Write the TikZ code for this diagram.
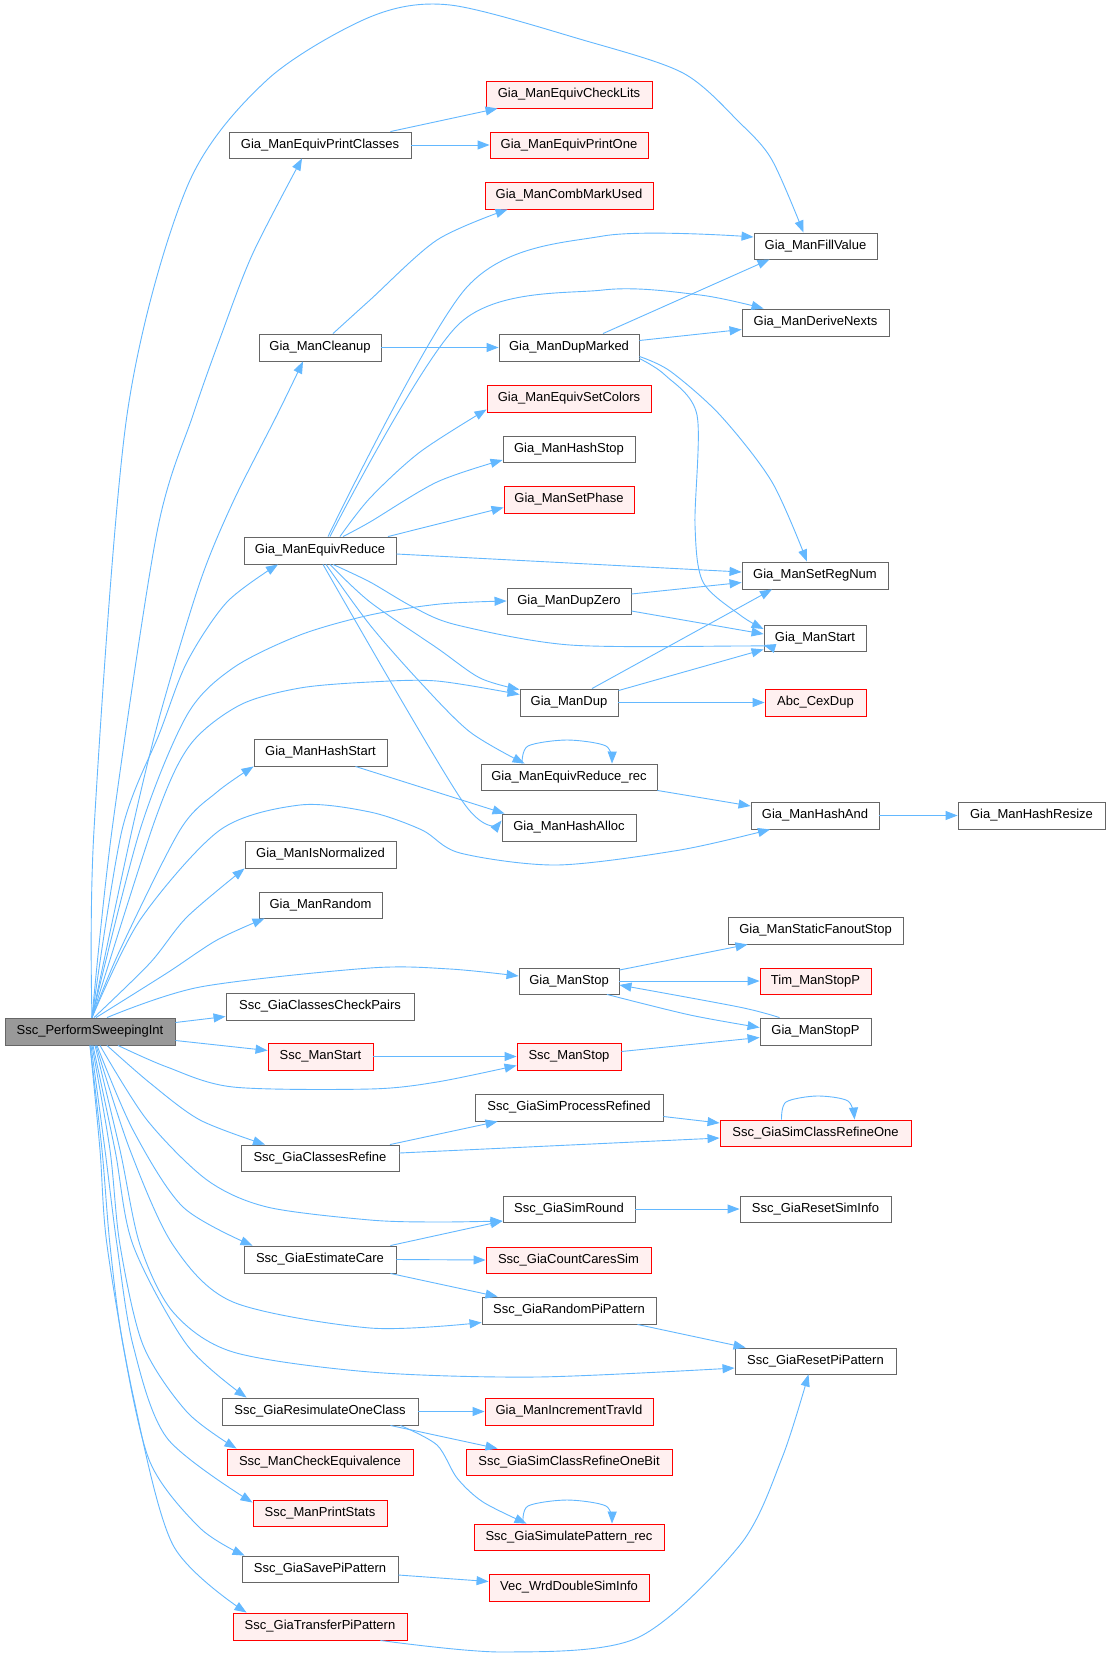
\documentclass[tikz,border=0pt]{standalone}
\usepackage{fontspec}
\setmainfont{Liberation Sans}
\usetikzlibrary{arrows.meta}
\definecolor{edgec}{HTML}{63B8FF}
\definecolor{bordc}{HTML}{666666}
\definecolor{redfill}{HTML}{FFF0F0}
\definecolor{rootfill}{HTML}{999999}
\newcommand\bx[7][nb]{\node[#1, minimum width={(#5-#3)*1pt}, minimum height={(#6-#4)*1pt}] (#2) at ({(#3+#5)/2},{(#4+#6)/2}) {#7};}
\begin{document}
\begin{tikzpicture}[x=1pt,y=-1pt,
  nb/.style={draw=bordc, fill=white, line width=0.9pt, inner sep=0pt, font=\fontsize{13}{15}\selectfont, text=black},
  rb/.style={nb, draw=red, fill=redfill},
  rt/.style={nb, fill=rootfill},
  edg/.style={draw=edgec, line width=0.9pt, -{Triangle[length=12pt,width=9pt]}}]
\fill[white] (0,0) rectangle (1109,1659);
\useasboundingbox (0,0) rectangle (1109,1659);

% nodes
\bx[rt]{R}{5}{1018}{175}{1045}{Ssc\_PerformSweepingInt}
\bx{EPC}{229}{132}{411}{158}{Gia\_ManEquivPrintClasses}
\bx[rb]{ECL}{486}{81}{652}{108}{Gia\_ManEquivCheckLits}
\bx[rb]{EPO}{490}{132}{648}{158}{Gia\_ManEquivPrintOne}
\bx[rb]{CMU}{485}{182}{653}{209}{Gia\_ManCombMarkUsed}
\bx{FV}{754}{233}{877}{259}{Gia\_ManFillValue}
\bx{DN}{742}{309}{889}{336}{Gia\_ManDeriveNexts}
\bx{CL}{259}{334}{381}{361}{Gia\_ManCleanup}
\bx{DM}{499}{334}{639}{361}{Gia\_ManDupMarked}
\bx[rb]{ESC}{487}{385}{651}{412}{Gia\_ManEquivSetColors}
\bx{HS}{503}{436}{635}{462}{Gia\_ManHashStop}
\bx[rb]{SP}{504}{486}{634}{513}{Gia\_ManSetPhase}
\bx{ER}{244}{537}{396}{564}{Gia\_ManEquivReduce}
\bx{SRN}{742}{562}{888}{589}{Gia\_ManSetRegNum}
\bx{DZ}{507}{588}{631}{614}{Gia\_ManDupZero}
\bx{ST}{764}{625}{866}{651}{Gia\_ManStart}
\bx{DUP}{520}{689}{618}{716}{Gia\_ManDup}
\bx[rb]{CEX}{765}{689}{866}{716}{Abc\_CexDup}
\bx{HST}{254}{739}{387}{766}{Gia\_ManHashStart}
\bx{ERR}{481}{764}{657}{790}{Gia\_ManEquivReduce\_rec}
\bx{HAL}{502}{814}{636}{841}{Gia\_ManHashAlloc}
\bx{HAN}{751}{802}{879}{829}{Gia\_ManHashAnd}
\bx{HR}{958}{802}{1105}{829}{Gia\_ManHashResize}
\bx{ISN}{245}{841}{396}{868}{Gia\_ManIsNormalized}
\bx{RND}{259}{892}{382}{918}{Gia\_ManRandom}
\bx{SFS}{728}{917}{903}{944}{Gia\_ManStaticFanoutStop}
\bx{GS}{519}{968}{619}{994}{Gia\_ManStop}
\bx[rb]{TIM}{760}{968}{871}{994}{Tim\_ManStopP}
\bx{CCP}{226}{993}{414}{1020}{Ssc\_GiaClassesCheckPairs}
\bx{GSP}{760}{1018}{871}{1045}{Gia\_ManStopP}
\bx[rb]{SMS}{268}{1043}{373}{1070}{Ssc\_ManStart}
\bx[rb]{SMT}{517}{1043}{621}{1070}{Ssc\_ManStop}
\bx{SPR}{475}{1094}{663}{1121}{Ssc\_GiaSimProcessRefined}
\bx[rb]{SCR}{720}{1120}{911}{1146}{Ssc\_GiaSimClassRefineOne}
\bx{CR}{241}{1145}{399}{1171}{Ssc\_GiaClassesRefine}
\bx{SR}{503}{1196}{635}{1222}{Ssc\_GiaSimRound}
\bx{RSI}{740}{1196}{891}{1222}{Ssc\_GiaResetSimInfo}
\bx{EC}{244}{1246}{396}{1273}{Ssc\_GiaEstimateCare}
\bx[rb]{CCS}{486}{1247}{651}{1273}{Ssc\_GiaCountCaresSim}
\bx{RPP}{482}{1297}{656}{1324}{Ssc\_GiaRandomPiPattern}
\bx{RSP}{735}{1348}{896}{1374}{Ssc\_GiaResetPiPattern}
\bx{ROC}{222}{1398}{418}{1425}{Ssc\_GiaResimulateOneClass}
\bx[rb]{ITI}{485}{1398}{653}{1425}{Gia\_ManIncrementTravId}
\bx[rb]{MCE}{227}{1449}{413}{1475}{Ssc\_ManCheckEquivalence}
\bx[rb]{ROB}{466}{1449}{672}{1475}{Ssc\_GiaSimClassRefineOneBit}
\bx[rb]{MPS}{253}{1500}{387}{1526}{Ssc\_ManPrintStats}
\bx[rb]{SPP}{474}{1524}{664}{1550}{Ssc\_GiaSimulatePattern\_rec}
\bx{SAV}{242}{1556}{398}{1582}{Ssc\_GiaSavePiPattern}
\bx[rb]{VEC}{489}{1574}{649}{1601}{Vec\_WrdDoubleSimInfo}
\bx[rb]{TPP}{233}{1613}{407}{1640}{Ssc\_GiaTransferPiPattern}

% root: upward edges
\draw[edg] plot[smooth] coordinates {([xshift=2pt]R.north) (94,830) (127,415) (187,187) (267,80) (370,17) (450,5) (583,40) (683,73) (740,123) (772,160) ([xshift=-12pt]FV.north)};
\draw[edg] plot[smooth] coordinates {([xshift=2pt]R.north) (112,830) (157,532) (193,415) (222,333) (253,253) ([xshift=-18pt]EPC.south)};
\draw[edg] plot[smooth] coordinates {([xshift=2pt]R.north) (132,830) (160,715) (200,582) (233,502) (277,415) ([xshift=-17pt]CL.south)};
\draw[edg] plot[smooth] coordinates {([xshift=2pt]R.north) (122,830) (160,732) (187,662) (227,602) ([xshift=-42pt]ER.south)};
\draw[edg] plot[smooth] coordinates {([xshift=2pt]R.north) (140,830) (187,715) (233,668) (300,635) (370,615) (440,604) (DZ.west)};
\draw[edg] plot[smooth] coordinates {([xshift=2pt]R.north) (155,820) (190,745) (240,705) (300,688) (370,682) (437,681) ([yshift=8pt]DUP.west)};
\draw[edg] plot[smooth] coordinates {([xshift=2pt]R.north) (120,950) (180,830) (217,792) (HST.south west)};
\draw[edg] plot[smooth] coordinates {([xshift=2pt]R.north) (140,920) (220,830) (300,805) (370,812) (422,830) (460,853) (557,865) (680,850) ([xshift=-45pt]HAN.south)};
\draw[edg] plot[smooth] coordinates {([xshift=4pt]R.north) (150,963) (187,917) (ISN.south west)};
\draw[edg] plot[smooth] coordinates {([xshift=6pt]R.north) (167,973) (217,940) ([xshift=6pt]RND.south west)};
\draw[edg] plot[smooth] coordinates {([xshift=17pt]R.north) (200,987) (370,968) (450,969) ([yshift=5pt]GS.west)};
\draw[edg] ([yshift=9pt]R.east) -- ([yshift=-10pt]CCP.west);
\draw[edg] ([yshift=-9pt]R.east) -- ([yshift=6pt]SMS.west);

% root: downward edges
\draw[edg] plot[smooth] coordinates {([xshift=28pt]R.south) (167,1067) (233,1087) (370,1089) (437,1082) ([yshift=-9pt]SMT.west)};
\draw[edg] plot[smooth] coordinates {([xshift=17pt]R.south) (150,1083) (200,1120) ([xshift=-55pt]CR.north)};
\draw[edg] plot[smooth] coordinates {([xshift=10pt]R.south) (147,1120) (207,1180) (267,1207) (370,1220) (437,1222) ([yshift=-12pt]SR.west)};
\draw[edg] plot[smooth] coordinates {([xshift=7pt]R.south) (133,1130) (183,1207) ([xshift=9pt]EC.north west)};
\draw[edg] plot[smooth] coordinates {([xshift=6pt]R.south) (130,1150) (173,1245) (233,1302) (370,1328) ([yshift=-12pt]RPP.west)};
\draw[edg] plot[smooth] coordinates {([xshift=5pt]R.south) (120,1150) (140,1245) (173,1312) (233,1352) (370,1372) (537,1377) ([yshift=-7pt]RSP.west)};
\draw[edg] plot[smooth] coordinates {([xshift=3pt]R.south) (115,1150) (133,1245) (187,1345) ([xshift=25pt]ROC.north west)};
\draw[edg] plot[smooth] coordinates {([xshift=2pt]R.south) (110,1150) (120,1245) (143,1345) (187,1412) ([xshift=10pt]MCE.north west)};
\draw[edg] plot[smooth] coordinates {([xshift=1pt]R.south) (105,1150) (117,1245) (133,1345) (167,1438) ([yshift=-3pt]MPS.north west)};
\draw[edg] plot[smooth] coordinates {(R.south) (102,1150) (110,1245) (123,1345) (150,1462) (200,1528) ([xshift=3pt]SAV.north west)};
\draw[edg] plot[smooth] coordinates {(R.south) (100,1150) (107,1245) (133,1395) (173,1545) ([xshift=14pt]TPP.north west)};

% other edges
\draw[edg] ([xshift=-21pt]EPC.north east) -- ([xshift=12pt]ECL.south west);
\draw[edg] (EPC.east) -- (EPO.west);
\draw[edg] plot[smooth] coordinates {([xshift=13pt]CL.north) (370,300) (437,240) ([xshift=23pt]CMU.south west)};
\draw[edg] (CL.east) -- (DM.west);
\draw[edg] ([xshift=34pt]DM.north) -- ([xshift=-46pt]FV.south);
\draw[edg] ([yshift=7pt]DM.east) -- ([yshift=-7pt]DN.west);
\draw[edg] plot[smooth] coordinates {([yshift=-9pt]DM.east) (670,371) (720,415) (772,482) ([xshift=-8pt]SRN.north)};
\draw[edg] plot[smooth] coordinates {([yshift=-11pt]DM.east) (665,375) (697,415) (695,525) (703,582) (740,615) ([yshift=9pt]ST.west)};

\draw[edg] plot[smooth] coordinates {([xshift=8pt]ER.north) (467,287) (603,236) ([yshift=9pt]FV.west)};
\draw[edg] plot[smooth] coordinates {([xshift=10pt]ER.north) (460,323) (603,290) (700,295) ([xshift=22pt]DN.north west)};
\draw[edg] plot[smooth] coordinates {([xshift=20pt]ER.north) (370,498) (420,452) ([yshift=-11pt]ESC.west)};
\draw[edg] plot[smooth] coordinates {([xshift=23pt]ER.north) (370,522) (437,482) ([yshift=-11pt]HS.west)};
\draw[edg] ([xshift=68pt]ER.north) -- ([yshift=-8pt]SP.west);
\draw[edg] ([yshift=-3.5pt]ER.east) -- ([yshift=3.5pt]SRN.west);
\draw[edg] plot[smooth] coordinates {([xshift=13pt]ER.south) (370,582) (413,607) (457,625) (570,645) (740,646) ([yshift=-7pt]ST.west)};
\draw[edg] plot[smooth] coordinates {([xshift=10pt]ER.south) (370,602) (437,648) (480,678) ([yshift=-1pt]DUP.north west)};
\draw[edg] plot[smooth] coordinates {([xshift=6pt]ER.south) (370,625) (420,682) (470,732) ([xshift=44pt]ERR.north west)};
\draw[edg] plot[smooth] coordinates {([xshift=3pt]ER.south) (463,802) ([yshift=7pt]HAL.west)};
\draw[edg] ([xshift=-32pt]HST.south east) -- ([xshift=3pt]HAL.north west);

\draw[edg] ([yshift=7pt]DZ.east) -- ([yshift=-7pt]SRN.west);
\draw[edg] ([yshift=-10pt]DZ.east) -- ([yshift=4pt]ST.west);
\draw[edg] ([xshift=23pt]DUP.north) -- ([xshift=-43pt]SRN.south);
\draw[edg] ([yshift=-2pt]DUP.north east) -- ([yshift=2pt]ST.south west);
\draw[edg] (DUP.east) -- (CEX.west);

\draw[edg] plot[smooth] coordinates {([xshift=-47pt]ERR.north) (528,746) (567,740) (606,746) ([xshift=43pt]ERR.north)};
\draw[edg] (ERR.south east) -- ([yshift=9.5pt]HAN.west);
\draw[edg] (HAN.east) -- (HR.west);

\draw[edg] ([yshift=11pt]GS.east) -- ([xshift=20pt]SFS.south west);
\draw[edg] (GS.east) -- (TIM.west);
\draw[edg] plot[smooth] coordinates {([xshift=38pt]GS.south) (690,1015) ([yshift=4pt]GSP.west)};
\draw[edg] plot[smooth] coordinates {([xshift=-36pt]GSP.north) (739,1007) ([yshift=-4pt]GS.east)};
\draw[edg] ([yshift=5pt]SMT.east) -- ([yshift=-6pt]GSP.west);
\draw[edg] (SMS.east) -- (SMT.west);

\draw[edg] ([xshift=70pt]CR.north) -- ([xshift=23pt]SPR.south west);
\draw[edg] ([yshift=5pt]CR.east) -- ([yshift=-5pt]SCR.west);
\draw[edg] ([yshift=-9pt]SPR.east) -- ([yshift=10pt]SCR.west);
\draw[edg] plot[smooth] coordinates {([xshift=-34pt]SCR.north) (786,1102) (817,1096) (848,1101) ([xshift=39pt]SCR.north)};

\draw[edg] (SR.east) -- (RSI.west);
\draw[edg] ([xshift=-6pt]EC.north east) -- ([yshift=-12pt]SR.west);
\draw[edg] (EC.east) -- (CCS.west);
\draw[edg] ([xshift=-6pt]EC.south east) -- ([xshift=16pt]RPP.north west);
\draw[edg] ([xshift=-19pt]RPP.south east) -- ([xshift=11pt]RSP.north west);

\draw[edg] (ROC.east) -- (ITI.west);
\draw[edg] ([xshift=-28pt]ROC.south east) -- ([xshift=32pt]ROB.north west);
\draw[edg] plot[smooth] coordinates {([xshift=-18pt]ROC.south east) (437,1445) (457,1478) (483,1502) ([xshift=53pt]SPP.north west)};
\draw[edg] plot[smooth] coordinates {([xshift=-46pt]SPP.north) (528,1506) (567,1500) (606,1506) ([xshift=43pt]SPP.north)};
\draw[edg] ([yshift=-6pt]SAV.east) -- ([yshift=6pt]VEC.west);
\draw[edg] plot[smooth] coordinates {([xshift=-27pt]TPP.south east) (503,1652) (637,1638) (740,1545) (782,1458) ([xshift=-7pt]RSP.south)};
\end{tikzpicture}
\end{document}
